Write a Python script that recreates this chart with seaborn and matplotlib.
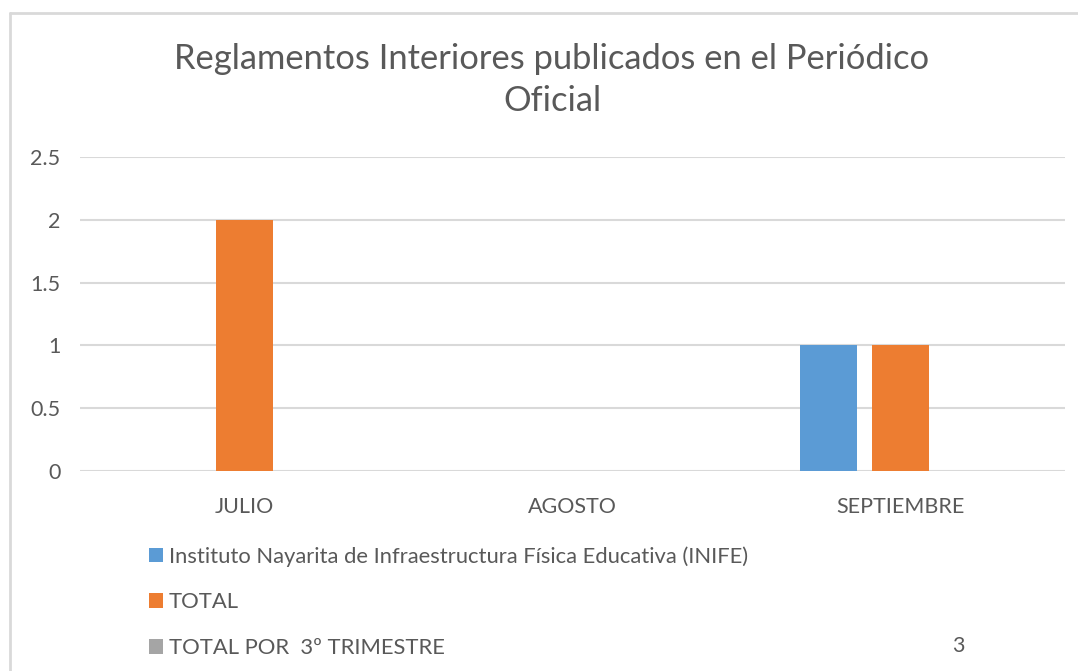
import matplotlib
matplotlib.use('Agg')
import matplotlib.pyplot as plt
from matplotlib.lines import Line2D
import pandas as pd
import seaborn as sns

# data
meses = ['JULIO', 'AGOSTO', 'SEPTIEMBRE']
series = ['Instituto Nayarita de Infraestructura Física Educativa (INIFE)',
          'TOTAL', 'TOTAL POR  3º TRIMESTRE']
inife = [0, 0, 1]
total = [2, 0, 1]
total_trimestre = [0, 0, 0]
total_trimestre_label = '3'

colores = ['#5B9BD5', '#ED7D31', '#A5A5A5']
gris_texto = '#595959'
gris_linea = '#D9D9D9'

df = pd.DataFrame({
    'mes': meses * 3,
    'serie': [series[0]] * 3 + [series[1]] * 3 + [series[2]] * 3,
    'valor': inife + total + total_trimestre,
})

sns.set_theme(style='white')
plt.rcParams['font.family'] = ['Lato', 'DejaVu Sans']

fig = plt.figure(figsize=(10.78, 6.71), dpi=100)
ax = fig.add_axes([80 / 1078, 1 - 471 / 671, (1065 - 80) / 1078, (471 - 157) / 671])

sns.barplot(data=df, x='mes', y='valor', hue='serie', order=meses,
            hue_order=series, palette=colores, saturation=1, width=0.66,
            gap=0.21, linewidth=0, ax=ax)

ax.set_ylim(0, 2.5)
ax.set_yticks([0, 0.5, 1, 1.5, 2, 2.5])
ax.set_yticklabels(['0', '0.5', '1', '1.5', '2', '2.5'])
ax.set_xlim(-0.5, 2.5)
ax.yaxis.grid(True, color=gris_linea, linewidth=1.5)
ax.set_axisbelow(True)
for s in ax.spines.values():
    s.set_visible(False)
ax.tick_params(axis='y', length=0, pad=14, labelsize=15.5, labelcolor=gris_texto)
ax.tick_params(axis='x', length=0, pad=19, labelsize=15.5, labelcolor=gris_texto)
ax.set_xlabel('')
ax.set_ylabel('')

fig.text(552 / 1078, 1 - 80 / 671,
         'Reglamentos Interiores publicados en el Periódico\nOficial',
         ha='center', va='center', fontsize=24.8, color=gris_texto,
         linespacing=1.42)

handles, labels = ax.get_legend_handles_labels()
ax.get_legend().remove()
fig.legend(handles, labels, loc='upper left',
           bbox_to_anchor=(149 / 1078, 1 - 546 / 671),
           frameon=False, fontsize=15.8, labelcolor=gris_texto,
           handlelength=0.65, handleheight=0.65, handletextpad=0.25,
           labelspacing=1.18, borderaxespad=0, borderpad=0)

fig.text(958 / 1078, 1 - 646 / 671, total_trimestre_label, ha='center',
         va='center', fontsize=15.5, color=gris_texto)

# chart frame
fig.add_artist(Line2D([10 / 1078, 1], [1 - 13 / 671] * 2, color=gris_linea,
                      linewidth=2, transform=fig.transFigure))
fig.add_artist(Line2D([10 / 1078] * 2, [0, 1 - 13 / 671], color=gris_linea,
                      linewidth=2, transform=fig.transFigure))

fig.savefig('out.png', dpi=100)
